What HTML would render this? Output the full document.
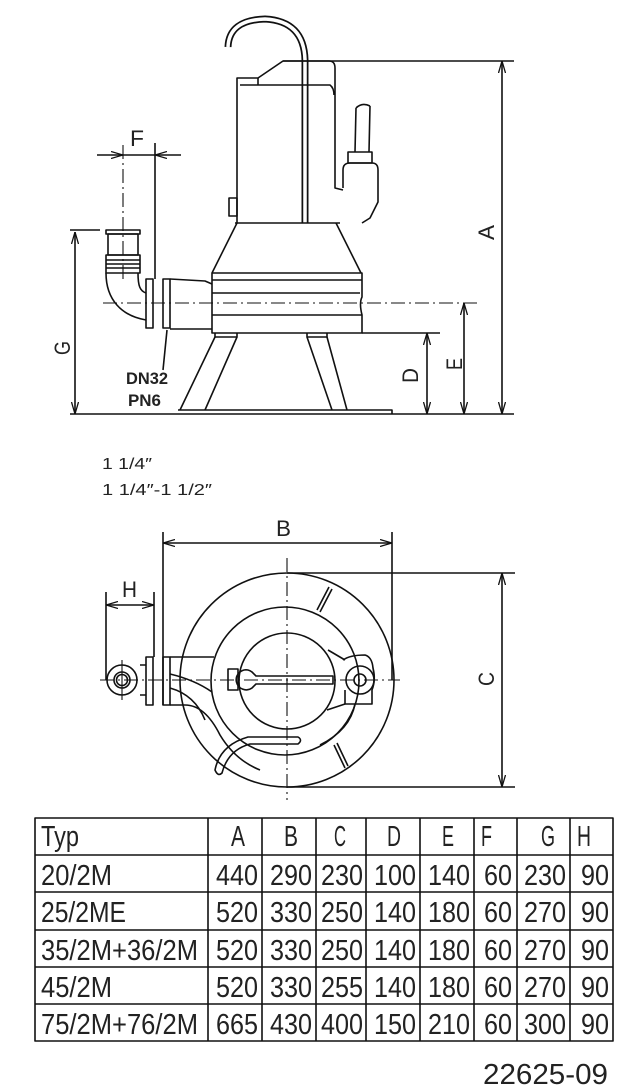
<!DOCTYPE html>
<html><head><meta charset="utf-8"><style>
html,body{margin:0;padding:0;background:#fff;}
svg{display:block;}
text{font-family:"Liberation Sans",sans-serif;fill:#222;}
</style></head><body>
<svg width="631" height="1090" viewBox="0 0 631 1090" xmlns="http://www.w3.org/2000/svg">
<defs>
<marker id="ar" viewBox="0 0 12 8" refX="12" refY="4" markerWidth="12" markerHeight="8" markerUnits="userSpaceOnUse" orient="auto-start-reverse">
<path d="M0,0.5 L12,4 L0,7.5" fill="none" stroke="#111" stroke-width="1.3"/>
</marker>
</defs>
<g fill="none" stroke="#111" stroke-width="1.6" stroke-linejoin="round">
<path d="M228,47 Q229,20 265,19 Q304,21 305,60 L305,223" stroke-width="7"/>
<path d="M228,47 Q229,20 265,19 Q304,21 305,60 L305,223" stroke="#fff" stroke-width="3.5"/>
<path d="M237,223 L237,78 L258,78 L283,61 L329,61 Q335,61 335,68 L335,188 L343,190"/>
<path d="M240,85 L330,85 Q334,88 334,95"/>
<path d="M258,78 L258,85"/>
<rect x="229" y="198" width="8" height="18"/>
<path d="M343,188 L343,170 Q343,163 350,163 L372,163 Q378,163 378,170 L378,202 L370,218 L362,223"/>
<rect x="348" y="152" width="24" height="11"/>
<path d="M355,152 L356,108 M369,152 L370,106 M356,108 Q362,102 370,106"/>
<path d="M235,223 L340,223"/>
<path d="M237,223 L212,273 M336,223 L361,273"/>
<path d="M212,273 L362,273 L362,297 Q359,303 362,315 L362,333 L212,333 Z"/>
<path d="M212,280 L362,280 M212,293 L360,293 M212,315 L362,315"/>
<path d="M170,279 L205,281 L212,284 M170,329 L212,329"/>
<rect x="163" y="279" width="7" height="49"/>
<rect x="146" y="279" width="7" height="49"/>
<path d="M146,320 C122,316 106,300 106,273 M146,293 C140,291 138,286 138,273"/>
<rect x="106" y="255" width="34" height="18"/>
<path d="M106,260 L140,260 M106,264 L140,264 M106,268 L140,268"/>
<rect x="108" y="234" width="30" height="21"/>
<rect x="106" y="230" width="34" height="4"/>
<path d="M215,333 L215,337 L237,337 L237,333 M307,333 L307,337 L327,337 L327,333"/>
<path d="M215,337 L180,410 M237,337 L205,410 M307,337 L332,410 M327,337 L347,410"/>
<path d="M178,410 L392,410 L392,414"/>
<path d="M103,303 L478,303" stroke-width="1.1" stroke-dasharray="14,4,2,4"/>
<path d="M123,145 L123,282" stroke-width="1.1" stroke-dasharray="14,4,2,4"/>
<path d="M155,143 L155,279 M283,61 L514,61 M70,414 L514,414 M70,230 L100,230 M362,333 L440,333"/>
<path d="M97,155 L123,155" marker-end="url(#ar)"/>
<path d="M181,155 L155,155" marker-end="url(#ar)"/>
<path d="M123,155 L155,155"/>
<path d="M75,232 L75,414" marker-start="url(#ar)" marker-end="url(#ar)"/>
<path d="M427,333 L427,414" marker-start="url(#ar)" marker-end="url(#ar)"/>
<path d="M464,303 L464,414" marker-start="url(#ar)" marker-end="url(#ar)"/>
<path d="M502,61 L502,414" marker-start="url(#ar)" marker-end="url(#ar)"/>
<path d="M167,330 L163,370"/>

<circle cx="287" cy="680" r="107"/>
<circle cx="285" cy="681" r="74"/>
<circle cx="287" cy="681" r="48"/>
<path d="M329,587 L317,610 M332,589 L320,612"/>
<path d="M334,745 L345,768 M337,743 L348,766"/>
<rect x="228" y="669" width="10" height="21"/>
<path d="M248,670 A10,10 0 1,0 252,688 L256,684 L333,684 L333,676 L256,676 L252,672 A10,10 0 0,0 248,670"/>
<path d="M343,660 Q350,655 365,655 Q372,657 373,668 Q376,680 372,690 L372,704 L345,704 L345,690"/>
<circle cx="360" cy="680" r="14"/>
<circle cx="360" cy="680" r="6"/>
<path d="M328,650 L345,660 M327,710 L345,704 M355,704 Q350,730 320,745"/>
<rect x="163" y="657" width="7" height="48"/>
<path d="M170,657 L214,657 M170,705 L185,705 Q205,705 220,735 Q235,760 260,770"/>
<path d="M170,674 Q195,680 212,692 M170,688 Q195,695 205,720"/>
<rect x="146" y="657" width="7" height="48"/>
<path d="M140,665 L146,665 M140,695 L146,695"/>
<circle cx="122" cy="680" r="15"/>
<circle cx="122" cy="680" r="8"/>
<circle cx="122" cy="680" r="5.5"/>
<path d="M298,737 Q303,740 298,744 L250,744 Q228,750 222,773 Q218,777 215,770 Q220,745 248,737 Z"/>
<path d="M100,680 L400,680" stroke-width="1.1" stroke-dasharray="14,4,2,4"/>
<path d="M287,558 L287,800" stroke-width="1.1" stroke-dasharray="14,4,2,4"/>
<path d="M122,660 L122,700" stroke-width="1.1"/>
<path d="M163,532 L163,705 M392,532 L392,680 M287,573 L515,573 M287,787 L515,787 M106,592 L106,680 M154,592 L154,657"/>
<path d="M163,543 L392,543" marker-start="url(#ar)" marker-end="url(#ar)"/>
<path d="M106,605 L154,605" marker-start="url(#ar)" marker-end="url(#ar)"/>
<path d="M502,573 L502,787" marker-start="url(#ar)" marker-end="url(#ar)"/>

<rect x="35" y="818" width="578" height="223"/>
<path d="M35,855 L613,855 M35,892 L613,892 M35,930 L613,930 M35,967 L613,967 M35,1004 L613,1004"/>
<path d="M208,818 L208,1041 M262,818 L262,1041 M316,818 L316,1041 M366,818 L366,1041 M420,818 L420,1041 M474,818 L474,1041 M517,818 L517,1041 M570,818 L570,1041"/>
</g>

<g font-size="22">
<text x="130" y="146" textLength="14" lengthAdjust="spacingAndGlyphs">F</text>
<text x="276" y="536" textLength="15" lengthAdjust="spacingAndGlyphs">B</text>
<text x="122" y="597" textLength="15" lengthAdjust="spacingAndGlyphs">H</text>
<text transform="translate(494,240) rotate(-90)" textLength="15" lengthAdjust="spacingAndGlyphs">A</text>
<text transform="translate(462,370) rotate(-90)" textLength="12" lengthAdjust="spacingAndGlyphs">E</text>
<text transform="translate(418,383) rotate(-90)" textLength="15" lengthAdjust="spacingAndGlyphs">D</text>
<text transform="translate(70,355) rotate(-90)" textLength="14" lengthAdjust="spacingAndGlyphs">G</text>
<text transform="translate(494,686) rotate(-90)" textLength="14" lengthAdjust="spacingAndGlyphs">C</text>
</g>
<g font-size="17" font-weight="bold">
<text x="126" y="384" textLength="42" lengthAdjust="spacingAndGlyphs">DN32</text>
<text x="128" y="406" textLength="33" lengthAdjust="spacingAndGlyphs">PN6</text>
</g>
<g font-size="16">
<text x="102" y="469" textLength="50" lengthAdjust="spacingAndGlyphs">1 1/4″</text>
<text x="102" y="495" textLength="110" lengthAdjust="spacingAndGlyphs">1 1/4″-1 1/2″</text>
</g>
<g font-size="29">
<text x="41" y="846" textLength="38" lengthAdjust="spacingAndGlyphs">Typ</text>
<text x="231" y="846" textLength="14" lengthAdjust="spacingAndGlyphs">A</text>
<text x="284" y="846" textLength="14" lengthAdjust="spacingAndGlyphs">B</text>
<text x="334" y="846" textLength="12" lengthAdjust="spacingAndGlyphs">C</text>
<text x="387" y="846" textLength="14" lengthAdjust="spacingAndGlyphs">D</text>
<text x="442" y="846" textLength="12" lengthAdjust="spacingAndGlyphs">E</text>
<text x="481" y="846" textLength="11" lengthAdjust="spacingAndGlyphs">F</text>
<text x="541" y="846" textLength="14" lengthAdjust="spacingAndGlyphs">G</text>
<text x="577" y="846" textLength="14" lengthAdjust="spacingAndGlyphs">H</text>
<text x="41" y="885" textLength="71" lengthAdjust="spacingAndGlyphs">20/2M</text>
<text x="41" y="922" textLength="85" lengthAdjust="spacingAndGlyphs">25/2ME</text>
<text x="41" y="960" textLength="157" lengthAdjust="spacingAndGlyphs">35/2M+36/2M</text>
<text x="41" y="997" textLength="71" lengthAdjust="spacingAndGlyphs">45/2M</text>
<text x="41" y="1034" textLength="157" lengthAdjust="spacingAndGlyphs">75/2M+76/2M</text>
</g>
<g font-size="29" text-anchor="end">
<text x="258" y="885" textLength="42" lengthAdjust="spacingAndGlyphs">440</text>
<text x="312" y="885" textLength="42" lengthAdjust="spacingAndGlyphs">290</text>
<text x="363" y="885" textLength="42" lengthAdjust="spacingAndGlyphs">230</text>
<text x="416" y="885" textLength="42" lengthAdjust="spacingAndGlyphs">100</text>
<text x="470" y="885" textLength="42" lengthAdjust="spacingAndGlyphs">140</text>
<text x="512" y="885" textLength="28" lengthAdjust="spacingAndGlyphs">60</text>
<text x="566" y="885" textLength="42" lengthAdjust="spacingAndGlyphs">230</text>
<text x="609" y="885" textLength="28" lengthAdjust="spacingAndGlyphs">90</text>
<text x="258" y="922" textLength="42" lengthAdjust="spacingAndGlyphs">520</text>
<text x="312" y="922" textLength="42" lengthAdjust="spacingAndGlyphs">330</text>
<text x="363" y="922" textLength="42" lengthAdjust="spacingAndGlyphs">250</text>
<text x="416" y="922" textLength="42" lengthAdjust="spacingAndGlyphs">140</text>
<text x="470" y="922" textLength="42" lengthAdjust="spacingAndGlyphs">180</text>
<text x="512" y="922" textLength="28" lengthAdjust="spacingAndGlyphs">60</text>
<text x="566" y="922" textLength="42" lengthAdjust="spacingAndGlyphs">270</text>
<text x="609" y="922" textLength="28" lengthAdjust="spacingAndGlyphs">90</text>
<text x="258" y="960" textLength="42" lengthAdjust="spacingAndGlyphs">520</text>
<text x="312" y="960" textLength="42" lengthAdjust="spacingAndGlyphs">330</text>
<text x="363" y="960" textLength="42" lengthAdjust="spacingAndGlyphs">250</text>
<text x="416" y="960" textLength="42" lengthAdjust="spacingAndGlyphs">140</text>
<text x="470" y="960" textLength="42" lengthAdjust="spacingAndGlyphs">180</text>
<text x="512" y="960" textLength="28" lengthAdjust="spacingAndGlyphs">60</text>
<text x="566" y="960" textLength="42" lengthAdjust="spacingAndGlyphs">270</text>
<text x="609" y="960" textLength="28" lengthAdjust="spacingAndGlyphs">90</text>
<text x="258" y="997" textLength="42" lengthAdjust="spacingAndGlyphs">520</text>
<text x="312" y="997" textLength="42" lengthAdjust="spacingAndGlyphs">330</text>
<text x="363" y="997" textLength="42" lengthAdjust="spacingAndGlyphs">255</text>
<text x="416" y="997" textLength="42" lengthAdjust="spacingAndGlyphs">140</text>
<text x="470" y="997" textLength="42" lengthAdjust="spacingAndGlyphs">180</text>
<text x="512" y="997" textLength="28" lengthAdjust="spacingAndGlyphs">60</text>
<text x="566" y="997" textLength="42" lengthAdjust="spacingAndGlyphs">270</text>
<text x="609" y="997" textLength="28" lengthAdjust="spacingAndGlyphs">90</text>
<text x="258" y="1034" textLength="42" lengthAdjust="spacingAndGlyphs">665</text>
<text x="312" y="1034" textLength="42" lengthAdjust="spacingAndGlyphs">430</text>
<text x="363" y="1034" textLength="42" lengthAdjust="spacingAndGlyphs">400</text>
<text x="416" y="1034" textLength="42" lengthAdjust="spacingAndGlyphs">150</text>
<text x="470" y="1034" textLength="42" lengthAdjust="spacingAndGlyphs">210</text>
<text x="512" y="1034" textLength="28" lengthAdjust="spacingAndGlyphs">60</text>
<text x="566" y="1034" textLength="42" lengthAdjust="spacingAndGlyphs">300</text>
<text x="609" y="1034" textLength="28" lengthAdjust="spacingAndGlyphs">90</text>
<text x="608" y="1084" textLength="125" lengthAdjust="spacingAndGlyphs">22625-09</text>
</g>
</svg>
</body></html>
